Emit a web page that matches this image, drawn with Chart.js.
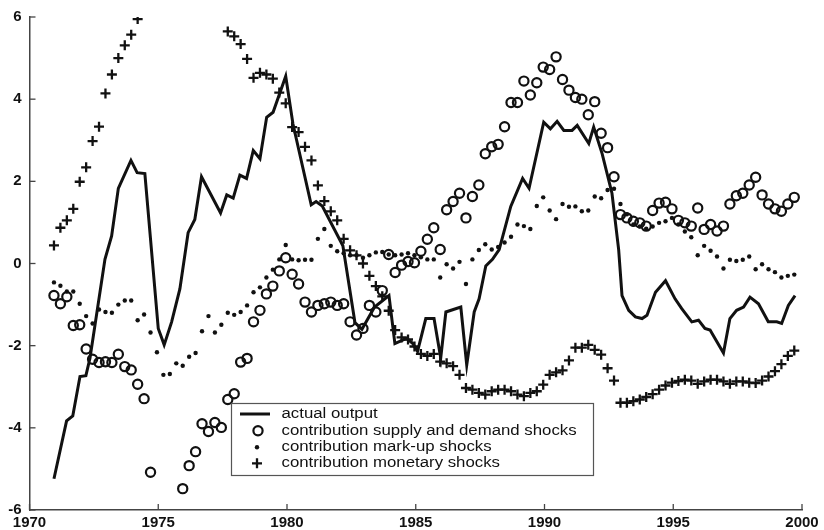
<!DOCTYPE html>
<html>
<head>
<meta charset="utf-8">
<script src="https://cdn.jsdelivr.net/npm/chart.js@4.4.0/dist/chart.umd.min.js"></script>
<style>
  body { margin: 0; background: #fff; }
</style>
</head>
<body>
<canvas id="myChart" width="824" height="530"></canvas>
<script>
// quarterly observations, first one early 1971
var firstQuarter = 1970.95;
var quarterCount = 116;

// actual output (line vertices)
var outputYears = [1970.95, 1971.44, 1971.68, 1971.96, 1972.19, 1972.35, 1972.93, 1973.19, 1973.45, 1973.94,
    1974.18, 1974.48, 1975.0, 1975.23, 1975.52, 1975.84, 1976.16, 1976.42, 1976.68, 1977.42,
    1977.66, 1977.91, 1978.17, 1978.43, 1978.69, 1978.95, 1979.21, 1979.46, 1979.95, 1980.23,
    1980.94, 1981.13, 1981.37, 1982.17, 1982.64, 1982.91, 1983.4, 1983.96, 1984.19, 1984.64,
    1984.89, 1985.07, 1985.39, 1985.71, 1985.97, 1986.17, 1986.75, 1986.98, 1987.27, 1987.46,
    1987.72, 1987.98, 1988.24, 1988.69, 1989.15, 1989.4, 1989.97, 1990.23, 1990.49, 1990.75,
    1991.07, 1991.27, 1991.72, 1991.91, 1992.24, 1992.62, 1992.88, 1993.01, 1993.27, 1993.53,
    1993.79, 1993.98, 1994.31, 1994.7, 1995.07, 1995.33, 1995.72, 1995.98, 1996.23, 1996.43,
    1996.95, 1997.2, 1997.46, 1997.73, 1997.98, 1998.31, 1998.69, 1999.02, 1999.21, 1999.47, 1999.73];
var outputValues = [-5.24, -3.83, -3.71, -2.75, -2.73, -2.3, 0.1, 0.67, 1.83, 2.51,
    2.21, 2.19, -1.58, -1.98, -1.42, -0.62, 0.75, 1.07, 2.11, 1.23,
    1.67, 1.59, 2.15, 2.07, 2.75, 2.55, 3.56, 3.68, 4.56, 3.4,
    1.43, 1.51, 1.4, 0.43, -1.44, -1.6, -1.06, -0.78, -1.95, -1.82,
    -1.95, -2.14, -1.34, -1.34, -2.3, -1.18, -1.06, -2.47, -1.18, -0.86,
    -0.06, 0.1, 0.34, 1.39, 2.07, 1.83, 3.44, 3.28, 3.46, 3.24,
    3.24, 3.36, 2.92, 3.32, 2.67, 1.71, 0.34, -0.78, -1.14, -1.3,
    -1.34, -1.26, -0.7, -0.42, -0.86, -1.1, -1.42, -1.38, -1.58, -1.62,
    -2.18, -1.34, -1.14, -1.06, -0.82, -0.98, -1.42, -1.42, -1.46, -1.02, -0.78];

// contribution supply and demand shocks (null = off the chart)
var supplyDemand = [-0.78, -0.98, -0.81, -1.51, -1.49, -2.08, -2.33, -2.41, -2.39, -2.41,
    -2.21, -2.51, -2.59, -2.94, -3.29, -5.08, null, null, null, null,
    -5.48, -4.92, -4.58, -3.9, -4.09, -3.87, -3.99, -3.31, -3.17, -2.4,
    -2.31, -1.42, -1.14, -0.74, -0.55, -0.18, 0.14, -0.26, -0.5, -0.94,
    -1.18, -1.02, -0.98, -0.94, -1.02, -0.98, -1.42, -1.74, -1.58, -1.02,
    -1.18, -0.66, 0.22, -0.22, -0.04, 0.05, 0.02, 0.3, 0.59, 0.87,
    0.34, 1.31, 1.51, 1.71, 1.11, 1.63, 1.91, 2.67, 2.84, 2.9,
    3.33, 3.92, 3.92, 4.44, 4.1, 4.4, 4.78, 4.72, 5.03, 4.48,
    4.22, 4.04, 4.0, 3.62, 3.94, 3.17, 2.82, 2.11, 1.19, 1.11,
    1.03, 0.99, 0.91, 1.29, 1.47, 1.49, 1.33, 1.05, 0.99, 0.91,
    1.35, 0.83, 0.95, 0.79, 0.91, 1.45, 1.65, 1.71, 1.91, 2.1,
    1.67, 1.45, 1.33, 1.27, 1.45, 1.61];

// contribution mark-up shocks
var markUp = [-0.46, -0.54, -0.68, -0.68, -0.98, -1.28, -1.46, -1.12, -1.18, -1.2,
    -1.0, -0.9, -0.9, -1.38, -1.24, -1.68, -2.16, -2.71, -2.69, -2.43,
    -2.49, -2.27, -2.18, -1.65, -1.28, -1.68, -1.49, -1.2, -1.25, -1.18,
    -1.02, -0.7, -0.58, -0.34, -0.15, 0.1, 0.45, 0.1, 0.08, 0.09,
    0.09, 0.6, 0.84, 0.43, 0.3, 0.25, 0.2, 0.2, 0.14, 0.2,
    0.27, 0.28, 0.22, 0.2, 0.22, 0.25, 0.2, 0.15, 0.1, 0.1,
    -0.34, -0.02, -0.12, 0.04, -0.5, 0.1, 0.33, 0.47, 0.34, 0.4,
    0.51, 0.65, 0.95, 0.91, 0.84, 1.4, 1.61, 1.29, 1.08, 1.45,
    1.38, 1.39, 1.27, 1.29, 1.63, 1.59, 1.79, 1.82, 1.45, 1.2,
    0.95, 0.9, 0.85, 0.9, 0.99, 1.03, 1.11, 0.95, 0.78, 0.64,
    0.2, 0.43, 0.31, 0.17, -0.12, 0.09, 0.06, 0.09, 0.17, -0.14,
    -0.02, -0.14, -0.21, -0.34, -0.3, -0.27];

// contribution monetary shocks (null = above the chart)
var monetary = [0.44, 0.87, 1.05, 1.33, 1.99, 2.34, 2.98, 3.33, 4.14, 4.6,
    5.0, 5.31, 5.57, 5.95, null, null, null, null, null, null,
    null, null, null, null, null, null, null, 5.65, 5.53, 5.34,
    4.98, 4.52, 4.64, 4.6, 4.5, 4.16, 3.9, 3.32, 3.2, 2.84,
    2.51, 1.9, 1.52, 1.27, 1.05, 0.6, 0.32, 0.2, 0.0, -0.3,
    -0.55, -0.8, -1.15, -1.62, -1.8, -1.85, -2.02, -2.2, -2.25, -2.2,
    -2.39, -2.43, -2.5, -2.71, -3.03, -3.07, -3.15, -3.19, -3.11, -3.07,
    -3.07, -3.11, -3.19, -3.23, -3.15, -3.11, -2.95, -2.71, -2.65, -2.6,
    -2.36, -2.05, -2.05, -1.98, -2.1, -2.22, -2.55, -2.85, -3.39, -3.39,
    -3.35, -3.31, -3.25, -3.18, -3.07, -2.97, -2.9, -2.86, -2.83, -2.85,
    -2.93, -2.87, -2.83, -2.83, -2.87, -2.93, -2.87, -2.87, -2.9, -2.91,
    -2.85, -2.75, -2.62, -2.45, -2.25, -2.12];

var xTicks = [1970, 1975, 1980, 1985, 1990, 1995, 2000];
var xTickLabels = ['1970', '1975', '1980', '1985', '1990', '1995', '2000'];
var yTicks = [-6, -4, -2, 0, 2, 4, 6];
var yTickLabels = ['-6', '-4', '-2', '0', '2', '4', '6'];

var legendLabels = ['actual output', 'contribution supply and demand shocks',
    'contribution mark-up shocks', 'contribution monetary shocks'];

var ink = '#111';

function quarterPoints(values) {
    var pts = [];
    for (var i = 0; i < quarterCount; i++) {
        if (values[i] !== null) pts.push({ x: firstQuarter + 0.25 * i, y: values[i] });
    }
    return pts;
}

var outputPoints = outputYears.map(function (t, i) { return { x: t, y: outputValues[i] }; });

// inward tick marks and the boxed legend, like the original figure
var framePlugin = {
    id: 'frame',
    afterDraw: function (chart) {
        var ctx = chart.ctx, area = chart.chartArea;
        var xs = chart.scales.x, ys = chart.scales.y;
        ctx.save();
        ctx.strokeStyle = '#444';
        ctx.lineWidth = 1.3;
        xTicks.forEach(function (v) {
            var px = xs.getPixelForValue(v);
            ctx.beginPath(); ctx.moveTo(px, area.bottom); ctx.lineTo(px, area.bottom - 6); ctx.stroke();
        });
        yTicks.forEach(function (v) {
            var py = ys.getPixelForValue(v);
            ctx.beginPath(); ctx.moveTo(area.left, py); ctx.lineTo(area.left + 6, py); ctx.stroke();
        });

        // legend box
        var bx = 231, by = 403, bw = 362, bh = 72;
        ctx.fillStyle = '#fff';
        ctx.fillRect(bx, by, bw, bh);
        ctx.strokeStyle = '#555';
        ctx.lineWidth = 1.2;
        ctx.strokeRect(bx + 0.5, by + 0.5, bw, bh);

        var rows = [414, 430.7, 447.3, 463.3];
        ctx.strokeStyle = ink;
        ctx.fillStyle = ink;
        // line sample
        ctx.lineWidth = 3;
        ctx.beginPath(); ctx.moveTo(240, rows[0]); ctx.lineTo(270, rows[0]); ctx.stroke();
        // circle
        ctx.lineWidth = 2.2;
        ctx.beginPath(); ctx.arc(258, rows[1], 4.6, 0, Math.PI * 2); ctx.stroke();
        // dot
        ctx.beginPath(); ctx.arc(257, rows[2], 2.2, 0, Math.PI * 2); ctx.fill();
        // plus
        ctx.lineWidth = 2.3;
        ctx.beginPath();
        ctx.moveTo(252, rows[3]); ctx.lineTo(262, rows[3]);
        ctx.moveTo(257, rows[3] - 5); ctx.lineTo(257, rows[3] + 5);
        ctx.stroke();

        ctx.font = '14px "Liberation Sans", Arial, sans-serif';
        ctx.textBaseline = 'middle';
        legendLabels.forEach(function (txt, i) {
            ctx.save();
            ctx.translate(281.5, rows[i]);
            ctx.scale(1.2, 1);
            ctx.fillText(txt, 0, 0);
            ctx.restore();
        });
        ctx.restore();
    }
};

var tickFont = { family: '"Liberation Sans", Arial, sans-serif', size: 15, weight: 'bold' };

var ctx = document.getElementById('myChart').getContext('2d');
var chart = new Chart(ctx, {
    type: 'scatter',
    data: {
        datasets: [{
            type: 'line',
            label: legendLabels[0],
            data: outputPoints,
            borderColor: ink,
            borderWidth: 3,
            pointRadius: 0,
            tension: 0,
            fill: false
        },
        {
            label: legendLabels[1],
            data: quarterPoints(supplyDemand),
            pointStyle: 'circle',
            pointRadius: 4.6,
            borderWidth: 2.2,
            borderColor: ink,
            backgroundColor: 'rgba(0,0,0,0)'
        },
        {
            label: legendLabels[2],
            data: quarterPoints(markUp),
            pointStyle: 'circle',
            pointRadius: 2.2,
            borderWidth: 0,
            backgroundColor: ink
        },
        {
            label: legendLabels[3],
            data: quarterPoints(monetary),
            pointStyle: 'cross',
            pointRadius: 5,
            borderWidth: 2.3,
            borderColor: ink
        }]
    },
    options: {
        responsive: false,
        animation: false,
        layout: { padding: { left: 0, top: 13, right: 22, bottom: 0 } },
        plugins: {
            legend: { display: false },
            tooltip: { enabled: false }
        },
        scales: {
            x: {
                type: 'linear',
                min: 1970,
                max: 2000,
                afterBuildTicks: function (scale) {
                    scale.ticks = xTicks.map(function (v) { return { value: v }; });
                },
                afterFit: function (scale) { scale.height = 20; },
                ticks: {
                    font: tickFont,
                    color: ink,
                    padding: 4,
                    maxRotation: 0,
                    callback: function (value) { return xTickLabels[xTicks.indexOf(value)]; }
                },
                grid: { drawOnChartArea: false, drawTicks: false },
                border: { display: true, color: '#444', width: 1.5 }
            },
            y: {
                min: -6,
                max: 6,
                afterBuildTicks: function (scale) {
                    scale.ticks = yTicks.map(function (v) { return { value: v }; });
                },
                afterFit: function (scale) { scale.width = 29.5; },
                ticks: {
                    font: tickFont,
                    color: ink,
                    padding: 8,
                    callback: function (value) { return yTickLabels[yTicks.indexOf(value)]; }
                },
                grid: { drawOnChartArea: false, drawTicks: false },
                border: { display: true, color: '#444', width: 1.5 }
            }
        }
    },
    plugins: [framePlugin]
});
</script>
</body>
</html>
